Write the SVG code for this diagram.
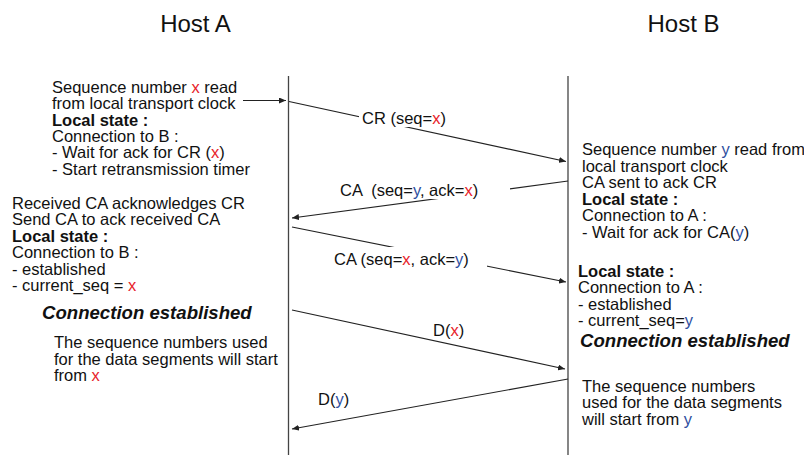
<svg xmlns="http://www.w3.org/2000/svg" width="804" height="455" viewBox="0 0 804 455">
<style>
text{font-family:"Liberation Sans",Arial,sans-serif;font-size:16.5px;fill:#111}
.title{font-size:24px}
.b{font-weight:bold}
.bi{font-weight:bold;font-style:italic;font-size:18.6px}
.r{fill:#e8232b}
.u{fill:#2f4f9f}
.life{stroke:#444;stroke-width:1.3;fill:none}
.msg{stroke:#222;stroke-width:1.2;fill:none;marker-end:url(#ah)}
.bg{fill:#fff}
</style>
<defs>
<marker id="ah" markerUnits="userSpaceOnUse" markerWidth="7" markerHeight="6" refX="7" refY="3" orient="auto">
<path d="M0,0 L7,3 L0,6 z" fill="#222"/>
</marker>
</defs>
<rect width="804" height="455" fill="#fff"/>
<g id="hostA">
<text class="title" x="195.5" y="32" text-anchor="middle">Host A</text>
<line class="life" x1="288.5" y1="76" x2="288.5" y2="455"/>
</g>
<g id="hostB">
<text class="title" x="683.5" y="32" text-anchor="middle">Host B</text>
<line class="life" x1="568" y1="76" x2="568" y2="455"/>
</g>
<g id="connectors">
<line class="msg" x1="243" y1="100.5" x2="286" y2="100.5"/>
<line class="msg" x1="289" y1="101.5" x2="566" y2="161.5"/>
<line class="msg" x1="568" y1="181" x2="292" y2="218"/>
<line class="msg" x1="292" y1="227" x2="566" y2="282"/>
<line class="msg" x1="292" y1="310" x2="565" y2="369"/>
<line class="msg" x1="568" y1="379" x2="292" y2="429"/>
<rect class="bg" x="359" y="109" width="89" height="18"/>
<rect class="bg" x="336" y="177" width="174" height="22"/>
<rect class="bg" x="330" y="247" width="157" height="21"/>
<text x="362" y="124">CR (seq=<tspan class="r">x</tspan>)</text>
<text x="340" y="196" xml:space="preserve">CA  (seq=<tspan class="u">y</tspan>, ack=<tspan class="r">x</tspan>)</text>
<text x="334" y="265">CA (seq=<tspan class="r">x</tspan>, ack=<tspan class="u">y</tspan>)</text>
<text x="433" y="336">D(<tspan class="r">x</tspan>)</text>
<text x="318" y="405">D(<tspan class="u">y</tspan>)</text>
</g>
<g id="a-send-cr">
<text x="52" y="92.7">Sequence number <tspan class="r">x</tspan> read</text>
<text x="52" y="109.1">from local transport clock</text>
<text x="52" y="125.5" class="b">Local state :</text>
<text x="52" y="141.9">Connection to B :</text>
<text x="52" y="158.3">- Wait for ack for CR (<tspan class="r">x</tspan>)</text>
<text x="52" y="174.7">- Start retransmission timer</text>
</g>
<g id="a-receive-ca">
<text x="12" y="208.5">Received CA acknowledges CR</text>
<text x="12" y="225">Send CA to ack received CA</text>
<text x="12" y="241.5" class="b">Local state :</text>
<text x="12" y="258">Connection to B :</text>
<text x="12" y="274.5">- established</text>
<text x="12" y="291">- current_seq = <tspan class="r">x</tspan></text>
</g>
<g id="a-established">
<text x="42" y="319.3" class="bi">Connection established</text>
</g>
<g id="a-data">
<text x="54" y="348.3">The sequence numbers used</text>
<text x="54" y="364.8">for the data segments will start</text>
<text x="54" y="381.3">from <tspan class="r">x</tspan></text>
</g>
<g id="b-send-ca">
<text x="582" y="155">Sequence number <tspan class="u">y</tspan> read from</text>
<text x="582" y="171.5">local transport clock</text>
<text x="582" y="188">CA sent to ack CR</text>
<text x="582" y="204.5" class="b">Local state :</text>
<text x="582" y="221">Connection to A :</text>
<text x="582" y="237.5">- Wait for ack for CA(<tspan class="u">y</tspan>)</text>
</g>
<g id="b-receive-ca">
<text x="578" y="276.7" class="b">Local state :</text>
<text x="578" y="293.3">Connection to A :</text>
<text x="578" y="309.6">- established</text>
<text x="578" y="326">- current_seq=<tspan class="u">y</tspan></text>
</g>
<g id="b-established">
<text x="580" y="346.7" class="bi">Connection established</text>
</g>
<g id="b-data">
<text x="582" y="391.7">The sequence numbers</text>
<text x="582" y="408.3">used for the data segments</text>
<text x="582" y="425">will start from <tspan class="u">y</tspan></text>
</g>
</svg>
